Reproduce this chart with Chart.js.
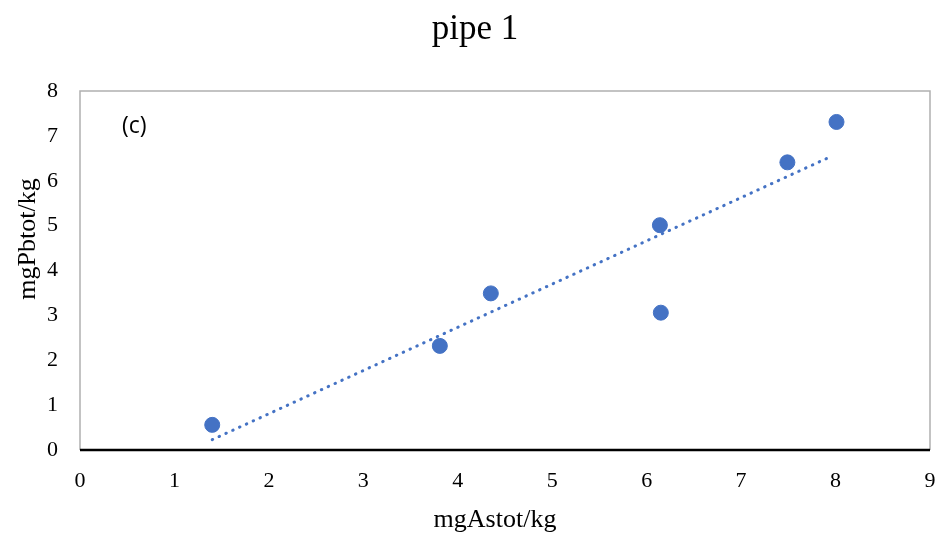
<!DOCTYPE html>
<html>
<head>
<meta charset="utf-8">
<script src="https://cdn.jsdelivr.net/npm/chart.js@4.4.1/dist/chart.umd.min.js"></script>
<style>
  html, body { margin: 0; padding: 0; background: #fff; }
  #wrap { width: 943px; height: 536px; }
</style>
</head>
<body>
<div id="wrap"><canvas id="chart" width="943" height="536"></canvas></div>
<script>
// Data
const asValues = [1.40, 3.81, 4.35, 6.14, 6.15, 7.49, 8.01];
const pbValues = [0.56, 2.32, 3.49, 5.01, 3.06, 6.41, 7.31];
// Linear trendline ends
const trendX = [1.40, 7.93];
const trendY = [0.23, 6.52];
const xTicks = [0, 1, 2, 3, 4, 5, 6, 7, 8, 9];
const yTicks = [0, 1, 2, 3, 4, 5, 6, 7, 8];

const blue = '#4472C4';
const serif = "'Liberation Serif', 'Times New Roman', serif";

// Frame around plot area, titles and the "(c)" tag
const framePlugin = {
  id: 'frame',
  beforeDatasetsDraw(chart) {
    const { ctx, chartArea: a } = chart;
    ctx.save();
    ctx.strokeStyle = '#b0b0b0';
    ctx.lineWidth = 1.5;
    ctx.beginPath();
    ctx.moveTo(a.left, a.bottom);
    ctx.lineTo(a.left, a.top);
    ctx.lineTo(a.right, a.top);
    ctx.lineTo(a.right, a.bottom);
    ctx.stroke();
    ctx.strokeStyle = '#000';
    ctx.lineWidth = 2.5;
    ctx.beginPath();
    ctx.moveTo(a.left, a.bottom);
    ctx.lineTo(a.right, a.bottom);
    ctx.stroke();

    ctx.fillStyle = '#000';
    ctx.font = "23px 'Open Sans', 'Liberation Sans', sans-serif";
    ctx.textBaseline = 'middle';
    ctx.fillText('(c)', a.left + 42, a.top + 35);

    ctx.textAlign = 'center';
    // chart title
    ctx.font = '35px ' + serif;
    ctx.fillText('pipe 1', 475, 30);
    // axis titles
    ctx.font = '26px ' + serif;
    ctx.fillText('mgAstot/kg', 495, 520);
    ctx.translate(28, 239);
    ctx.rotate(-Math.PI / 2);
    ctx.fillText('mgPbtot/kg', 0, 0);
    ctx.restore();
  }
};

const points = asValues.map((x, i) => ({ x: x, y: pbValues[i] }));
const trend = trendX.map((x, i) => ({ x: x, y: trendY[i] }));

new Chart(document.getElementById('chart'), {
  type: 'scatter',
  data: {
    datasets: [
      {
        label: 'pipe 1',
        data: points,
        backgroundColor: blue,
        borderColor: blue,
        pointRadius: 7.5,
        pointHoverRadius: 7.5
      },
      {
        label: 'trend',
        type: 'line',
        data: trend,
        borderColor: blue,
        borderWidth: 3,
        borderDash: [0.5, 7],
        borderCapStyle: 'round',
        pointRadius: 0,
        fill: false
      }
    ]
  },
  options: {
    responsive: false,
    animation: false,
    layout: { padding: { left: 0, right: 13, top: 91, bottom: 0 } },
    plugins: {
      legend: { display: false },
      tooltip: { enabled: false },
      title: { display: false }
    },
    scales: {
      x: {
        type: 'linear',
        min: 0,
        max: 9,
        afterBuildTicks(scale) { scale.ticks = xTicks.map(v => ({ value: v })); },
        afterFit(scale) {
          scale.height = 86;
          scale.paddingLeft = 0;
          scale.paddingRight = 0;
        },
        grid: { display: false, drawTicks: false },
        border: { display: false },
        ticks: {
          color: '#000',
          padding: 18,
          font: { family: serif, size: 22 }
        }
      },
      y: {
        type: 'linear',
        min: 0,
        max: 8,
        afterBuildTicks(scale) { scale.ticks = yTicks.map(v => ({ value: v })); },
        afterFit(scale) {
          scale.width = 80;
          scale.paddingTop = 0;
          scale.paddingBottom = 0;
        },
        grid: { display: false, drawTicks: false },
        border: { display: false },
        ticks: {
          color: '#000',
          padding: 22,
          font: { family: serif, size: 22 }
        }
      }
    }
  },
  plugins: [framePlugin]
});
</script>
</body>
</html>
